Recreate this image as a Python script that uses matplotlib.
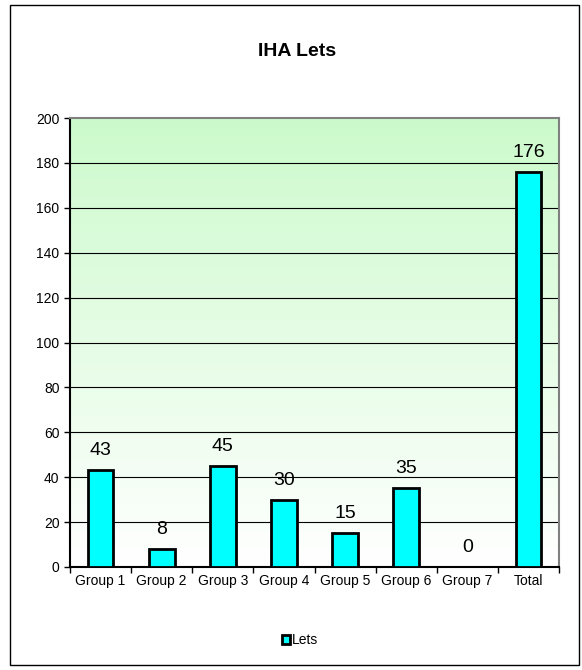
import matplotlib
matplotlib.use('Agg')
import matplotlib.pyplot as plt
import numpy as np
from matplotlib.patches import Rectangle

plt.rcParams['font.family'] = ['Liberation Sans', 'DejaVu Sans']

groups = ['Group 1', 'Group 2', 'Group 3', 'Group 4', 'Group 5', 'Group 6', 'Group 7', 'Total']
lets = [43, 8, 45, 30, 15, 35, 0, 176]
y_ticks = [0, 20, 40, 60, 80, 100, 120, 140, 160, 180, 200]

fig = plt.figure(figsize=(5.82, 6.70), dpi=100)

# chart border
fig.patches.append(Rectangle((10 / 582, 5 / 670), 569 / 582, 660 / 670,
                             transform=fig.transFigure, fill=False,
                             edgecolor='black', linewidth=1))

ax = fig.add_axes([70 / 582, 1 - 567 / 670, 489 / 582, 449 / 670])

x = np.arange(len(groups))
ax.set_xlim(-0.5, len(groups) - 0.5)
ax.set_ylim(0, 200)

# green to white fade behind the bars
grad = np.linspace(1, 0, 256).reshape(-1, 1)
top = np.array([0.80, 0.98, 0.80])
bot = np.array([1.0, 1.0, 1.0])
img = bot + (top - bot) * grad[..., None]
ax.imshow(img, extent=[0, 1, 0, 1], transform=ax.transAxes,
          aspect='auto', zorder=0, interpolation='bilinear')

for t in y_ticks[1:-1]:
    ax.axhline(t, color='black', linewidth=0.8, zorder=1)

bars = ax.bar(x, lets, width=0.42, color='#00ffff', edgecolor='black',
              linewidth=2, zorder=3, label='Lets')
for xi, v in zip(x, lets):
    ax.annotate(str(v), (xi, v), xytext=(0, 8), textcoords='offset points',
                ha='center', va='bottom', fontsize=14)

ax.set_yticks(y_ticks)
ax.tick_params(axis='y', labelsize=10, length=4, direction='out', width=1)
ax.set_xticks(x)
ax.set_xticklabels(groups, fontsize=10)
ax.tick_params(axis='x', length=0, pad=5)
ax.set_xticks(np.arange(-0.5, len(groups), 1), minor=True)
ax.tick_params(axis='x', which='minor', length=4, width=1, direction='out')

ax.spines['left'].set_color('black')
ax.spines['bottom'].set_color('black')
ax.spines['top'].set_color('#808080')
ax.spines['right'].set_color('#808080')
for s in ax.spines.values():
    s.set_linewidth(1.5)

fig.text(297 / 582, 1 - 52 / 670, 'IHA Lets', ha='center', va='center',
         fontsize=14, fontweight='bold')

fig.legend(handles=[bars], labels=['Lets'], loc='center',
           bbox_to_anchor=(300 / 582, 1 - 640 / 670), frameon=False,
           fontsize=10, handlelength=0.6, handleheight=0.6, handletextpad=0.1)

fig.savefig('out.png', dpi=100)
